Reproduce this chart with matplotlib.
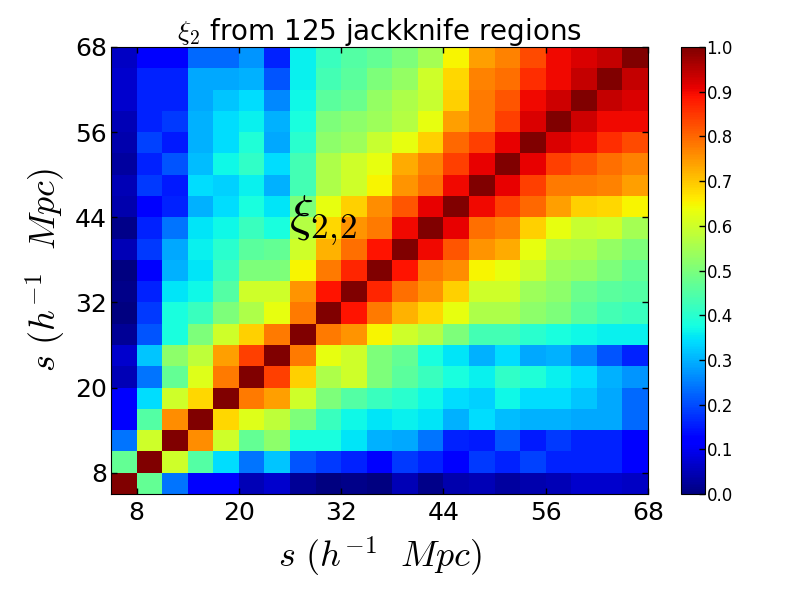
import numpy as np
import matplotlib
matplotlib.use('Agg')
import matplotlib.pyplot as plt

plt.rcParams['mathtext.fontset'] = 'cm'

# correlation values, row 0 is the bottom row
row00 = [1.00, .47, .24, .12, .11, .05, .07, .02, .00, .01, .00, .05, .01, .04, .05, .03, .04, .05, .07, .07, .06]
row01 = [.47, 1.00, .60, .45, .34, .24, .32, .21, .18, .16, .12, .18, .16, .12, .18, .16, .19, .16, .16, .16, .12]
row02 = [.24, .60, 1.00, .76, .60, .47, .52, .38, .38, .35, .30, .29, .24, .16, .15, .21, .15, .18, .16, .16, .12]
row03 = [.12, .45, .76, 1.00, .68, .62, .58, .50, .42, .37, .35, .36, .35, .30, .34, .31, .30, .30, .29, .29, .23]
row04 = [.11, .34, .60, .68, 1.00, .78, .74, .60, .50, .45, .42, .40, .37, .34, .33, .37, .34, .34, .32, .29, .23]
row05 = [.05, .24, .47, .62, .78, 1.00, .84, .69, .56, .60, .50, .46, .42, .38, .36, .41, .39, .36, .34, .30, .27]
row06 = [.07, .32, .52, .58, .74, .84, 1.00, .78, .63, .60, .50, .47, .38, .35, .30, .34, .29, .30, .26, .21, .16]
row07 = [.02, .21, .38, .50, .60, .69, .78, 1.00, .78, .75, .65, .60, .57, .50, .43, .43, .40, .38, .37, .36, .36]
row08 = [.00, .18, .38, .42, .50, .56, .63, .78, 1.00, .89, .78, .72, .68, .63, .56, .56, .52, .50, .46, .43, .42]
row09 = [.01, .16, .35, .37, .45, .60, .60, .75, .89, 1.00, .87, .79, .75, .69, .60, .60, .54, .52, .48, .46, .45]
row10 = [.00, .12, .30, .35, .42, .50, .50, .65, .78, .87, 1.00, .89, .78, .76, .65, .63, .59, .54, .53, .50, .47]
row11 = [.05, .18, .29, .36, .40, .46, .47, .60, .72, .79, .89, 1.00, .90, .82, .75, .73, .63, .57, .56, .53, .50]
row12 = [.01, .16, .24, .35, .37, .42, .38, .57, .68, .75, .78, .90, 1.00, .91, .79, .77, .69, .63, .59, .60, .55]
row13 = [.04, .12, .16, .30, .34, .38, .35, .50, .63, .69, .76, .82, .91, 1.00, .90, .84, .80, .74, .69, .68, .65]
row14 = [.05, .18, .15, .34, .33, .36, .30, .43, .56, .60, .65, .75, .79, .90, 1.00, .91, .84, .78, .78, .77, .74]
row15 = [.03, .16, .21, .31, .37, .41, .34, .43, .56, .60, .63, .73, .77, .84, .91, 1.00, .91, .84, .82, .79, .77]
row16 = [.04, .19, .15, .30, .34, .39, .29, .40, .52, .54, .59, .63, .69, .80, .84, .91, 1.00, .92, .90, .86, .83]
row17 = [.05, .16, .18, .30, .34, .36, .30, .38, .50, .52, .54, .57, .63, .74, .78, .84, .92, 1.00, .93, .90, .90]
row18 = [.07, .16, .16, .29, .32, .34, .26, .37, .46, .48, .53, .56, .59, .69, .78, .82, .90, .93, 1.00, .94, .92]
row19 = [.07, .16, .16, .29, .29, .30, .21, .36, .43, .46, .50, .53, .60, .68, .77, .79, .86, .90, .94, 1.00, .94]
row20 = [.06, .12, .12, .23, .23, .27, .16, .36, .42, .45, .47, .50, .55, .65, .74, .77, .83, .90, .92, .94, 1.00]

tick_labels = ['8', '20', '32', '44', '56', '68']

corr = np.array([row00, row01, row02, row03, row04, row05, row06, row07, row08, row09, row10,
                 row11, row12, row13, row14, row15, row16, row17, row18, row19, row20])

fig = plt.figure(figsize=(8, 6), dpi=100)
ax = fig.add_axes([111/800, 106/600, 537/800, 447/600])
mesh = ax.pcolormesh(corr, cmap='jet', vmin=0, vmax=1)
ax.set_xlim(0, 21)
ax.set_ylim(0, 21)

ticks = np.arange(1, 22, 4)
ax.set_xticks(ticks)
ax.set_yticks(ticks)
ax.set_xticklabels(tick_labels, fontsize=18)
ax.set_yticklabels(tick_labels, fontsize=18)
ax.tick_params(direction='in', top=True, right=True, length=4, width=1)
ax.tick_params(axis='x', pad=5)
ax.tick_params(axis='y', pad=3)

ax.set_xlabel(r'$s\ (h^{-1}\ \ Mpc)$', fontsize=26, labelpad=7.5)
ax.set_ylabel(r'$s\ (h^{-1}\ \ Mpc)$', fontsize=26, labelpad=5)
ax.set_title(r'$\xi_2$ from 125 jackknife regions', fontsize=20, pad=5)
ax.text(6.95, 12.4, r'$\xi_{2,\!2}$', fontsize=36, color='black')

cax = fig.add_axes([681/800, 106/600, 24/800, 447/600])
cbar = fig.colorbar(mesh, cax=cax)
cbar.set_ticks(np.arange(0, 1.01, 0.1))
cbar.ax.tick_params(direction='in', length=4, width=1, labelsize=12, pad=1)

fig.savefig('out.png', dpi=100)
